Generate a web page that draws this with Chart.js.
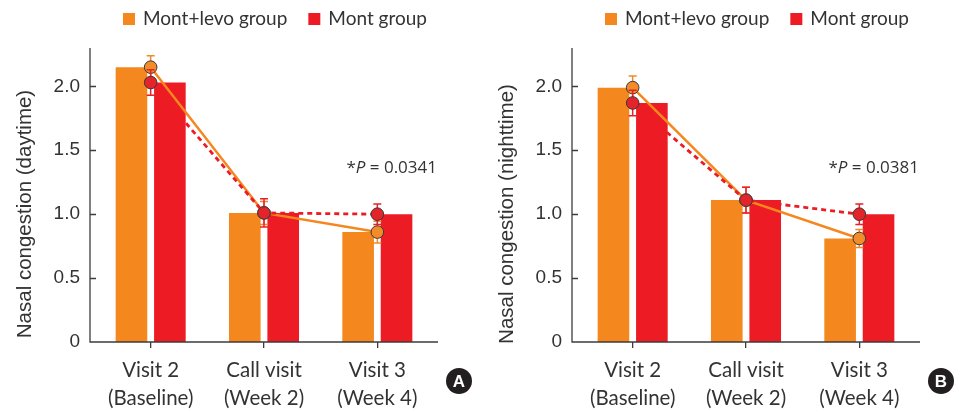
<!DOCTYPE html>
<html>
<head>
<meta charset="utf-8">
<script src="https://cdn.jsdelivr.net/npm/chart.js@4/dist/chart.umd.min.js"></script>
<style>
  html, body { margin: 0; padding: 0; background: #fff; }
  #wrap { position: relative; width: 966px; height: 412px; overflow: hidden; }
  .panel { position: absolute; top: 0; width: 483px; height: 412px; }
  #pa { left: 0; }
  #pb { left: 482px; }
</style>
</head>
<body>
<div id="wrap">
  <div class="panel" id="pa"><canvas id="ca"></canvas></div>
  <div class="panel" id="pb"><canvas id="cb"></canvas></div>
</div>
<script>
// Visits (two-line category labels) and series names
const visits = [['Visit 2', '(Baseline)'], ['Call visit', '(Week 2)'], ['Visit 3', '(Week 4)']];
const seriesNames = ['Mont+levo group', 'Mont group'];
const yTicks = [0, 0.5, 1.0, 1.5, 2.0];
const yMax = 2.3;

// Daytime nasal congestion: means and standard errors
const daytimeLevo = [2.15, 1.01, 0.86];
const daytimeLevoErr = [0.09, 0.09, 0.085];
const daytimeMont = [2.03, 1.01, 1.00];
const daytimeMontErr = [0.10, 0.11, 0.08];

// Nighttime nasal congestion: means and standard errors
const nighttimeLevo = [1.99, 1.11, 0.81];
const nighttimeLevoErr = [0.09, 0.10, 0.07];
const nighttimeMont = [1.87, 1.11, 1.00];
const nighttimeMontErr = [0.10, 0.10, 0.08];

const COL_LEVO = '#F5871F';
const COL_MONT = '#ED1C24';
const COL_LEVO_ERR = '#F0892A';
const COL_MONT_ERR = '#E8202A';
const INK = '#333333';
const AXIS = '#3c3c3c';

// Error bars are painted just before each line dataset, so circles sit on top
const errorBarPlugin = {
  id: 'errorBars',
  beforeDatasetDraw(chart, args) {
    const ds = chart.data.datasets[args.index];
    if (!ds.errors) return;
    const x = chart.scales.x, y = chart.scales.y, ctx = chart.ctx;
    ctx.save();
    ctx.strokeStyle = ds.errorColor;
    ctx.lineWidth = 1.5;
    ds.data.forEach((v, i) => {
      const px = x.getPixelForValue(i);
      const top = y.getPixelForValue(v + ds.errors[i]);
      const bot = y.getPixelForValue(v - ds.errors[i]);
      ctx.beginPath();
      ctx.moveTo(px, top); ctx.lineTo(px, bot);
      ctx.moveTo(px - 4, top); ctx.lineTo(px + 4, top);
      ctx.moveTo(px - 4, bot); ctx.lineTo(px + 4, bot);
      ctx.stroke();
    });
    ctx.restore();
  }
};

// Axis lines (slightly longer than the category range) with inward y ticks
const axesPlugin = {
  id: 'axesLines',
  afterDatasetsDraw(chart) {
    const a = chart.chartArea, y = chart.scales.y, ctx = chart.ctx;
    const left = a.left - 4, right = a.right + 4;
    ctx.save();
    ctx.strokeStyle = AXIS;
    ctx.lineWidth = 1.3;
    ctx.beginPath();
    ctx.moveTo(left, a.top); ctx.lineTo(left, a.bottom);
    ctx.lineTo(right, a.bottom);
    yTicks.forEach(v => {
      if (v === 0) return;
      const py = Math.round(y.getPixelForValue(v)) + 0.5;
      ctx.moveTo(left, py); ctx.lineTo(left + 6, py);
    });
    ctx.stroke();
    ctx.restore();
  }
};

// Axis title, legend, P value note and panel badge
const decorPlugin = {
  id: 'decor',
  afterDraw(chart, args, opts) {
    const ctx = chart.ctx, a = chart.chartArea;
    ctx.save();
    // y-axis title
    ctx.translate(25, 214);
    ctx.rotate(-Math.PI / 2);
    ctx.fillStyle = INK;
    ctx.font = '20.5px "Liberation Sans", Arial, sans-serif';
    ctx.textAlign = 'center';
    ctx.textBaseline = 'middle';
    ctx.fillText(opts.yTitle, 0, 0);
    ctx.restore();

    // legend
    ctx.save();
    ctx.font = '19px Lato, sans-serif';
    ctx.textBaseline = 'middle';
    let lx = 123;
    const ly = 19;
    [[seriesNames[0], COL_LEVO], [seriesNames[1], COL_MONT]].forEach(([name, col]) => {
      ctx.fillStyle = col;
      ctx.fillRect(lx, ly - 6, 12, 12);
      ctx.fillStyle = INK;
      ctx.fillText(name, lx + 20, ly);
      lx += 20 + ctx.measureText(name).width + 21;
    });
    ctx.restore();

    // P value note
    ctx.save();
    ctx.fillStyle = INK;
    ctx.textBaseline = 'middle';
    const fNorm = '17px "Open Sans", sans-serif';
    const fItal = 'italic 17px "Open Sans", sans-serif';
    const parts = [['*', fNorm], ['P', fItal], [' = ' + opts.pValue, fNorm]];
    let total = 0;
    parts.forEach(([t, f]) => { ctx.font = f; total += ctx.measureText(t).width; });
    let px = a.right + 3 - total;
    parts.forEach(([t, f]) => {
      ctx.font = f;
      ctx.fillText(t, px, 168);
      px += ctx.measureText(t).width;
    });
    ctx.restore();

    // panel badge
    ctx.save();
    ctx.fillStyle = '#231f20';
    ctx.beginPath();
    ctx.arc(459, 381, 13, 0, Math.PI * 2);
    ctx.fill();
    ctx.fillStyle = '#ffffff';
    ctx.font = 'bold 17px "Liberation Sans", Arial, sans-serif';
    ctx.textAlign = 'center';
    ctx.textBaseline = 'middle';
    ctx.fillText(opts.badge, 459, 382);
    ctx.restore();
  }
};

function makePanel(canvasId, levo, levoErr, mont, montErr, yTitle, pValue, badge) {
  return new Chart(document.getElementById(canvasId), {
    data: {
      labels: visits,
      datasets: [
        { type: 'line', label: seriesNames[1], data: mont, errors: montErr, errorColor: COL_MONT_ERR,
          borderColor: COL_MONT, borderWidth: 2.8, borderDash: [5, 4], tension: 0,
          pointRadius: 6.3, pointBackgroundColor: '#E3242B', pointBorderColor: '#3a3a3a', pointBorderWidth: 1,
          order: 1 },
        { type: 'line', label: seriesNames[0], data: levo, errors: levoErr, errorColor: COL_LEVO_ERR,
          borderColor: COL_LEVO, borderWidth: 2.5, tension: 0,
          pointRadius: 6.3, pointBackgroundColor: '#F28C28', pointBorderColor: '#3a3a3a', pointBorderWidth: 1,
          order: 2 },
        { type: 'bar', label: seriesNames[0], data: levo, backgroundColor: COL_LEVO, order: 3 },
        { type: 'bar', label: seriesNames[1], data: mont, backgroundColor: COL_MONT, order: 4 }
      ]
    },
    options: {
      responsive: true,
      maintainAspectRatio: false,
      animation: false,
      events: [],
      layout: { padding: { top: 48, right: 49, bottom: 0, left: 0 } },
      datasets: { bar: { categoryPercentage: 0.678, barPercentage: 0.823 } },
      plugins: {
        legend: { display: false },
        tooltip: { enabled: false },
        decor: { yTitle, pValue, badge }
      },
      scales: {
        x: {
          type: 'category',
          offset: true,
          border: { display: false },
          grid: { display: true, offset: false, drawOnChartArea: false, drawTicks: true,
                  tickLength: 6, color: AXIS, lineWidth: 1.3 },
          ticks: { color: INK, padding: 8, maxRotation: 0, autoSkip: false,
                   font: { family: 'Lato', size: 20.5, lineHeight: 28 / 20.5 } },
          afterFit(scale) { scale.height = 70; }
        },
        y: {
          min: 0,
          max: yMax,
          border: { display: false },
          grid: { display: false, drawTicks: false },
          afterBuildTicks(scale) { scale.ticks = yTicks.map(v => ({ value: v })); },
          ticks: {
            color: INK, padding: 14,
            font: { family: '"Liberation Sans", Arial, sans-serif', size: 19 },
            callback: v => (v === 0 ? '0' : v.toFixed(1))
          },
          afterFit(scale) { scale.width = 94; }
        }
      }
    },
    plugins: [errorBarPlugin, axesPlugin, decorPlugin]
  });
}

makePanel('ca', daytimeLevo, daytimeLevoErr, daytimeMont, daytimeMontErr,
          'Nasal congestion (daytime)', '0.0341', 'A');
makePanel('cb', nighttimeLevo, nighttimeLevoErr, nighttimeMont, nighttimeMontErr,
          'Nasal congestion (nighttime)', '0.0381', 'B');
</script>
</body>
</html>
